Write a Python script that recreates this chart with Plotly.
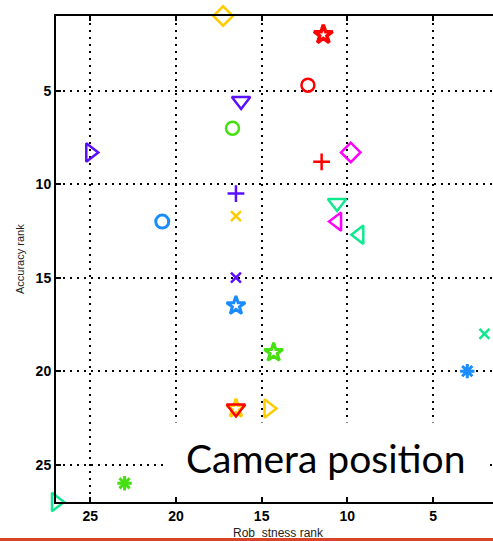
import plotly.graph_objects as go

# Rank of each method on the two criteria
robustness_rank = [17.25, 11.4, 12.3, 16.2, 16.7, 25.0, 9.8, 11.5, 16.5, 16.5,
                   20.8, 10.6, 10.6, 9.3, 16.5, 16.5, 14.3, 2.0, 3.0, 16.5,
                   16.5, 14.6, 23.0, 27.0]
accuracy_rank = [1.0, 2.0, 4.7, 5.55, 7.0, 8.3, 8.3, 8.8, 10.5, 11.7,
                 12.0, 11.0, 12.0, 12.7, 15.0, 16.5, 19.0, 18.0, 20.0, 22.0,
                 22.0, 22.0, 26.0, 27.0]

# Marker style per method
RED, GOLD, PURPLE, GREEN = "#ff0000", "#ffcc00", "#5a10ff", "#44e010"
BLUE, SPRING, MAGENTA = "#1a8cff", "#10e890", "#ff00ff"
marker_symbols = ["diamond-open", "star-open", "circle-open", "triangle-down-open",
                  "circle-open", "triangle-right-open", "diamond-open", "cross-thin-open",
                  "cross-thin-open", "x-thin-open", "circle-open", "triangle-down-open",
                  "triangle-left-open", "triangle-left-open", "x-thin-open", "star-open",
                  "star-open", "x-thin-open", "asterisk-open", "star-open",
                  "triangle-down-open", "triangle-right-open", "asterisk-open",
                  "triangle-right-open"]
marker_colors = [GOLD, RED, RED, PURPLE, GREEN, PURPLE, MAGENTA, RED,
                 PURPLE, GOLD, BLUE, SPRING, MAGENTA, SPRING, PURPLE, BLUE,
                 GREEN, SPRING, BLUE, GOLD, RED, GOLD, GREEN, SPRING]
marker_sizes = [15, 14, 13, 16, 13, 16, 15, 12, 12, 10, 13, 16,
                16, 16, 10, 14, 14, 10, 12, 14, 16, 16, 12, 16]
marker_widths = [2.5, 3.5, 2.5, 2.5, 2.5, 2.5, 2.5, 2.5, 2.5, 2.5, 3, 2.5,
                 2.5, 2.5, 2.5, 3, 3, 2.5, 3, 3, 2.5, 2.5, 3, 2.5]

x_ticks = [5, 10, 15, 20, 25]
y_ticks = [5, 10, 15, 20, 25]

W, H = 493, 541
ML, MT, MB = 56, 16, 39
plot_w, plot_h = W - ML, H - MT - MB

fig = go.Figure(go.Scatter(
    x=robustness_rank, y=accuracy_rank, mode="markers", cliponaxis=False,
    marker=dict(symbol=marker_symbols, color=marker_colors, size=marker_sizes,
                opacity=1, line=dict(width=marker_widths)),
    hoverinfo="x+y", showlegend=False,
))

axis_common = dict(
    showline=True, linecolor="black", linewidth=2,
    ticks="inside", ticklen=5, tickwidth=1.5, tickcolor="black",
    showgrid=True, gridcolor="black", gridwidth=1.5, griddash="2px,5px",
    zeroline=False,
    tickfont=dict(family="Liberation Sans", size=14, color="black", weight="bold"),
)
fig.update_xaxes(range=[27, 1.5], tickvals=x_ticks, mirror="ticks", **axis_common)
fig.update_yaxes(range=[27, 1], tickvals=y_ticks, **axis_common)

fig.update_layout(
    width=W, height=H,
    margin=dict(l=ML, r=0, t=MT, b=MB, pad=0),
    plot_bgcolor="white", paper_bgcolor="white",
    shapes=[
        # caption panel over the lower part of the plot
        dict(type="rect", xref="x", yref="y", x0=20.75, x1=1.75, y0=22.75, y1=26.7,
             fillcolor="white", line=dict(width=0), layer="above"),
        # rule under the chart
        dict(type="line", xref="paper", yref="paper",
             x0=-ML / plot_w, x1=1, y0=-(539.5 - (H - MB)) / plot_h,
             y1=-(539.5 - (H - MB)) / plot_h,
             line=dict(color="#d9452b", width=3)),
    ],
    annotations=[
        dict(text="Camera position", xref="x", yref="y", x=11.25, y=24.65,
             xanchor="center", yanchor="middle", showarrow=False,
             font=dict(family="Lato", size=39, color="black")),
        dict(text="Accuracy rank", xref="paper", yref="paper",
             x=(20 - ML) / plot_w, y=0.5, xanchor="center", yanchor="middle",
             textangle=-90, showarrow=False,
             font=dict(family="Liberation Sans", size=11, color="#222")),
        dict(text="Rob\u00a0\u00a0stness rank", xref="paper", yref="paper",
             x=(278 - ML) / plot_w, y=-(533 - (H - MB)) / plot_h,
             xanchor="center", yanchor="middle", showarrow=False,
             font=dict(family="Liberation Sans", size=12, color="#222")),
    ],
)

fig.write_html("out.html")
